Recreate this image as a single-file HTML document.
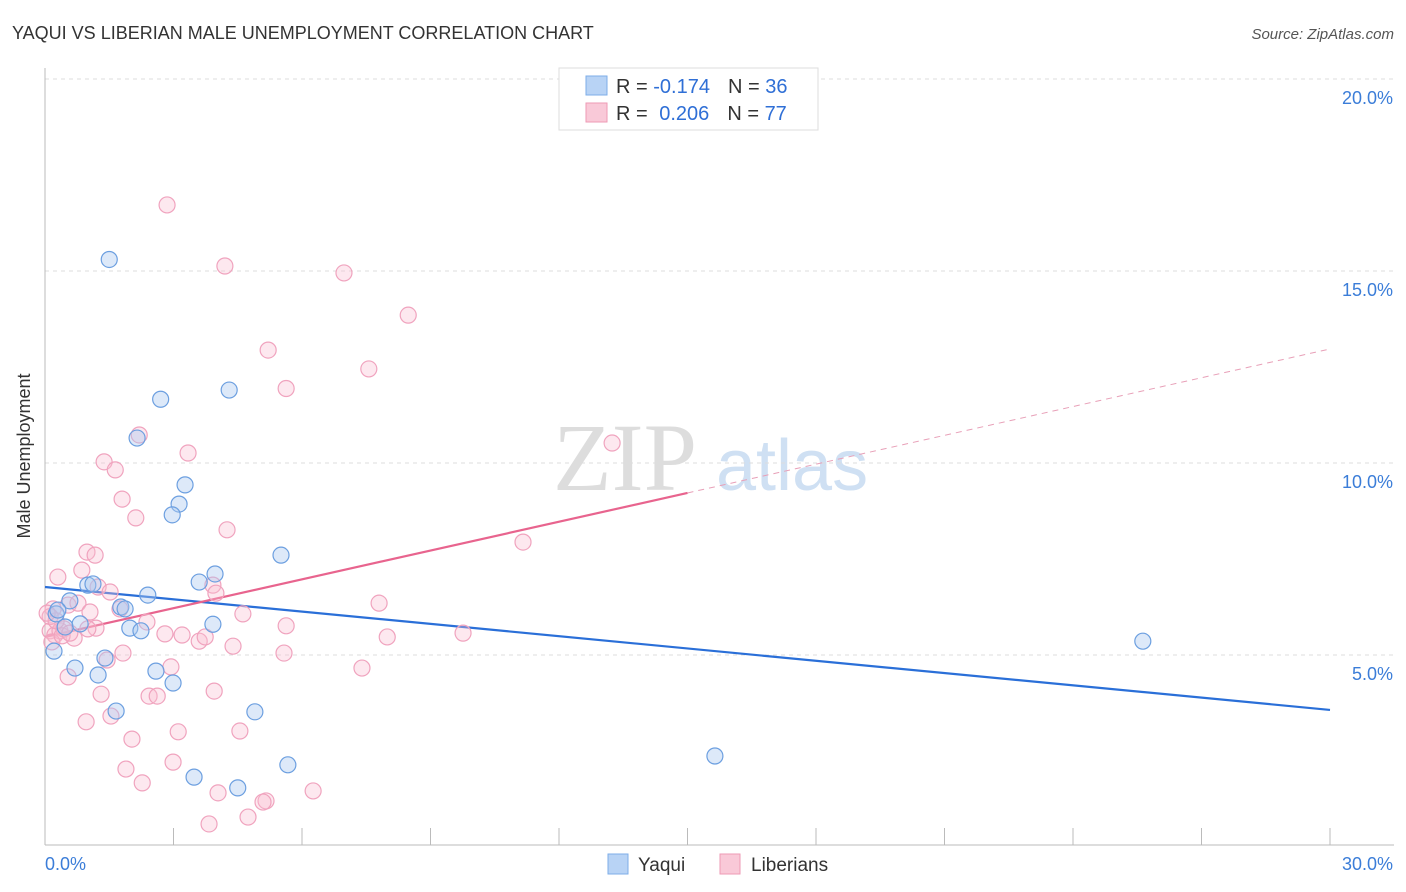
<!DOCTYPE html>
<html><head><meta charset="utf-8"><style>
body{margin:0;background:#fff;font-family:"Liberation Sans",sans-serif;}
svg{display:block}
</style></head><body>
<svg id="chart" width="1406" height="892">
<text x="12" y="39" font-size="18" fill="#333">YAQUI VS LIBERIAN MALE UNEMPLOYMENT CORRELATION CHART</text>
<text x="1394" y="39" font-size="15" fill="#555" font-style="italic" text-anchor="end">Source: ZipAtlas.com</text>
<text x="30" y="456" font-size="18" fill="#333" transform="rotate(-90 30 456)" text-anchor="middle">Male Unemployment</text>
<g><text x="553" y="490" font-size="96" fill="#ddd" font-family="Liberation Serif,serif">ZIP</text><text x="716" y="490" font-size="72" fill="#cfe0f3">atlas</text></g>
<g id="grid"></g><g id="axes"></g><g id="lines"></g><g id="pts"></g>
<g>
<rect x="559" y="68" width="259" height="62" fill="#fff" stroke="#ddd"/>
<rect x="586" y="76" width="21" height="19" fill="#b8d3f5" stroke="#7eaee8"/>
<rect x="586" y="103" width="21" height="19" fill="#f9c9d8" stroke="#ee9ab5"/>
<text x="616" y="93" font-size="20" fill="#333">R = <tspan fill="#2f6fd6">-0.174</tspan><tspan dx="18">N = </tspan><tspan fill="#2f6fd6">36</tspan></text>
<text x="616" y="120" font-size="20" fill="#333">R = <tspan fill="#2f6fd6" dx="6">0.206</tspan><tspan dx="18">N = </tspan><tspan fill="#2f6fd6">77</tspan></text>
</g>
<g>
<rect x="608" y="854" width="20" height="20" fill="#b8d3f5" stroke="#7eaee8"/><text x="638" y="871" font-size="19" fill="#333">Yaqui</text>
<rect x="720" y="854" width="20" height="20" fill="#f9c9d8" stroke="#ee9ab5"/><text x="751" y="871" font-size="19" fill="#333">Liberians</text>
</g>
</svg>
<script>
const yTicks=[5,10,15,20];
const yTickLabels=["5.0%","10.0%","15.0%","20.0%"];
const xTickLabels=["0.0%","30.0%"];
const yaquiX=[1.5,2.7,4.3,2.15,3.27,3.13,2.97,5.51,3.97,3.6,2.4,1.0,1.12,0.58,1.77,1.87,3.92,1.98,2.24,0.26,0.3,0.47,0.82,0.21,1.4,0.7,1.24,2.59,2.99,1.66,4.9,5.67,3.48,4.5,15.64,25.63];
const yaquiY=[15.3,11.66,11.9,10.65,9.43,8.93,8.65,7.6,7.11,6.9,6.56,6.82,6.85,6.41,6.25,6.2,5.8,5.7,5.63,6.07,6.17,5.73,5.81,5.1,4.92,4.66,4.48,4.58,4.27,3.54,3.52,2.14,1.82,1.54,2.37,5.36];
const libX=[2.85,4.2,6.98,8.48,5.21,7.56,5.63,13.24,2.2,3.34,1.38,1.64,1.8,2.12,4.25,11.16,0.98,1.17,0.3,0.86,1.24,1.52,3.92,3.99,0.54,0.77,1.05,1.75,2.38,4.62,7.8,5.63,9.76,7.99,0.19,0.12,0.23,0.35,0.44,0.68,1.19,1.0,2.8,3.2,3.6,3.74,4.39,5.58,1.82,1.45,2.94,7.4,0.54,1.31,3.95,2.43,2.62,1.54,0.96,2.03,3.11,4.55,1.89,2.99,2.27,4.04,5.16,5.09,6.26,3.83,4.74,0.12,0.16,0.26,0.4,0.58,0.05];
const libY=[16.72,15.13,14.95,13.85,12.94,12.45,11.94,10.52,10.73,10.26,10.03,9.82,9.06,8.57,8.26,7.94,7.68,7.6,7.03,7.21,6.77,6.64,6.82,6.61,6.3,6.35,6.12,6.2,5.86,6.07,6.35,5.76,5.57,5.47,6.2,5.63,5.52,5.63,5.68,5.44,5.7,5.68,5.55,5.52,5.36,5.47,5.23,5.05,5.05,4.87,4.69,4.66,4.43,3.98,4.06,3.93,3.93,3.41,3.26,2.81,3.0,3.02,2.03,2.21,1.67,1.41,1.2,1.17,1.46,0.6,0.78,6.0,5.34,5.89,5.5,5.57,6.09];
const blueTrend=[6.77,3.57];const pinkTrend=[5.47,12.97];
const NS="http://www.w3.org/2000/svg";
const xs=v=>45+v*(1285/30), ys=v=>847-v*38.4;
function mk(tag,attrs,parent){const e=document.createElementNS(NS,tag);for(const k in attrs)e.setAttribute(k,attrs[k]);document.getElementById(parent).appendChild(e);return e;}
yTicks.forEach((t,i)=>{
 const g=mk('line',{x1:45,x2:1394,y1:ys(t),y2:ys(t),stroke:'#ddd','stroke-dasharray':'4,4'},'grid');
 
 
 const l=mk('text',{x:1393,y:ys(t)+25,'font-size':18,fill:'#3b7dd8','text-anchor':'end'},'grid');l.textContent=yTickLabels[i];
 
 
});
mk('line',{x1:45,x2:45,y1:68,y2:845,stroke:'#bbb'},'axes');
const xa=mk('line',{x1:45,x2:1394,y1:845,y2:845,stroke:'#bbb'},'axes');


for(let i=0;i<=10;i++){mk('line',{x1:xs(i*3),x2:xs(i*3),y1:828,y2:845,stroke:'#bbb'},'axes');}
let t0=mk('text',{x:45,y:870,'font-size':18,fill:'#3b7dd8'},'axes');t0.textContent=xTickLabels[0];


let t1=mk('text',{x:1393,y:870,'font-size':18,fill:'#3b7dd8','text-anchor':'end'},'axes');t1.textContent=xTickLabels[1];


libX.forEach((x,i)=>{const c=mk('circle',{cx:xs(x),cy:ys(libY[i]),r:8,fill:'rgba(249,190,210,0.35)',stroke:'#f0a3be','stroke-width':1.2},'pts');
 
 });
yaquiX.forEach((x,i)=>{const c=mk('circle',{cx:xs(x),cy:ys(yaquiY[i]),r:8,fill:'rgba(170,200,240,0.4)',stroke:'#6c9fe0','stroke-width':1.2},'pts');
 
 });
const bl=mk('line',{x1:xs(0),y1:ys(blueTrend[0]),x2:xs(30),y2:ys(blueTrend[1]),stroke:'#2a6fd8','stroke-width':2.2},'lines');


const pm=pinkTrend[0]+(pinkTrend[1]-pinkTrend[0])/2;
const pl=mk('line',{x1:xs(0),y1:ys(pinkTrend[0]),x2:xs(15),y2:ys(pm),stroke:'#e8648e','stroke-width':2.2},'lines');


const pd=mk('line',{x1:xs(15),y1:ys(pm),x2:xs(30),y2:ys(pinkTrend[1]),stroke:'#e8a0b8','stroke-width':1,'stroke-dasharray':'6,5'},'lines');


</script>
</body></html>
